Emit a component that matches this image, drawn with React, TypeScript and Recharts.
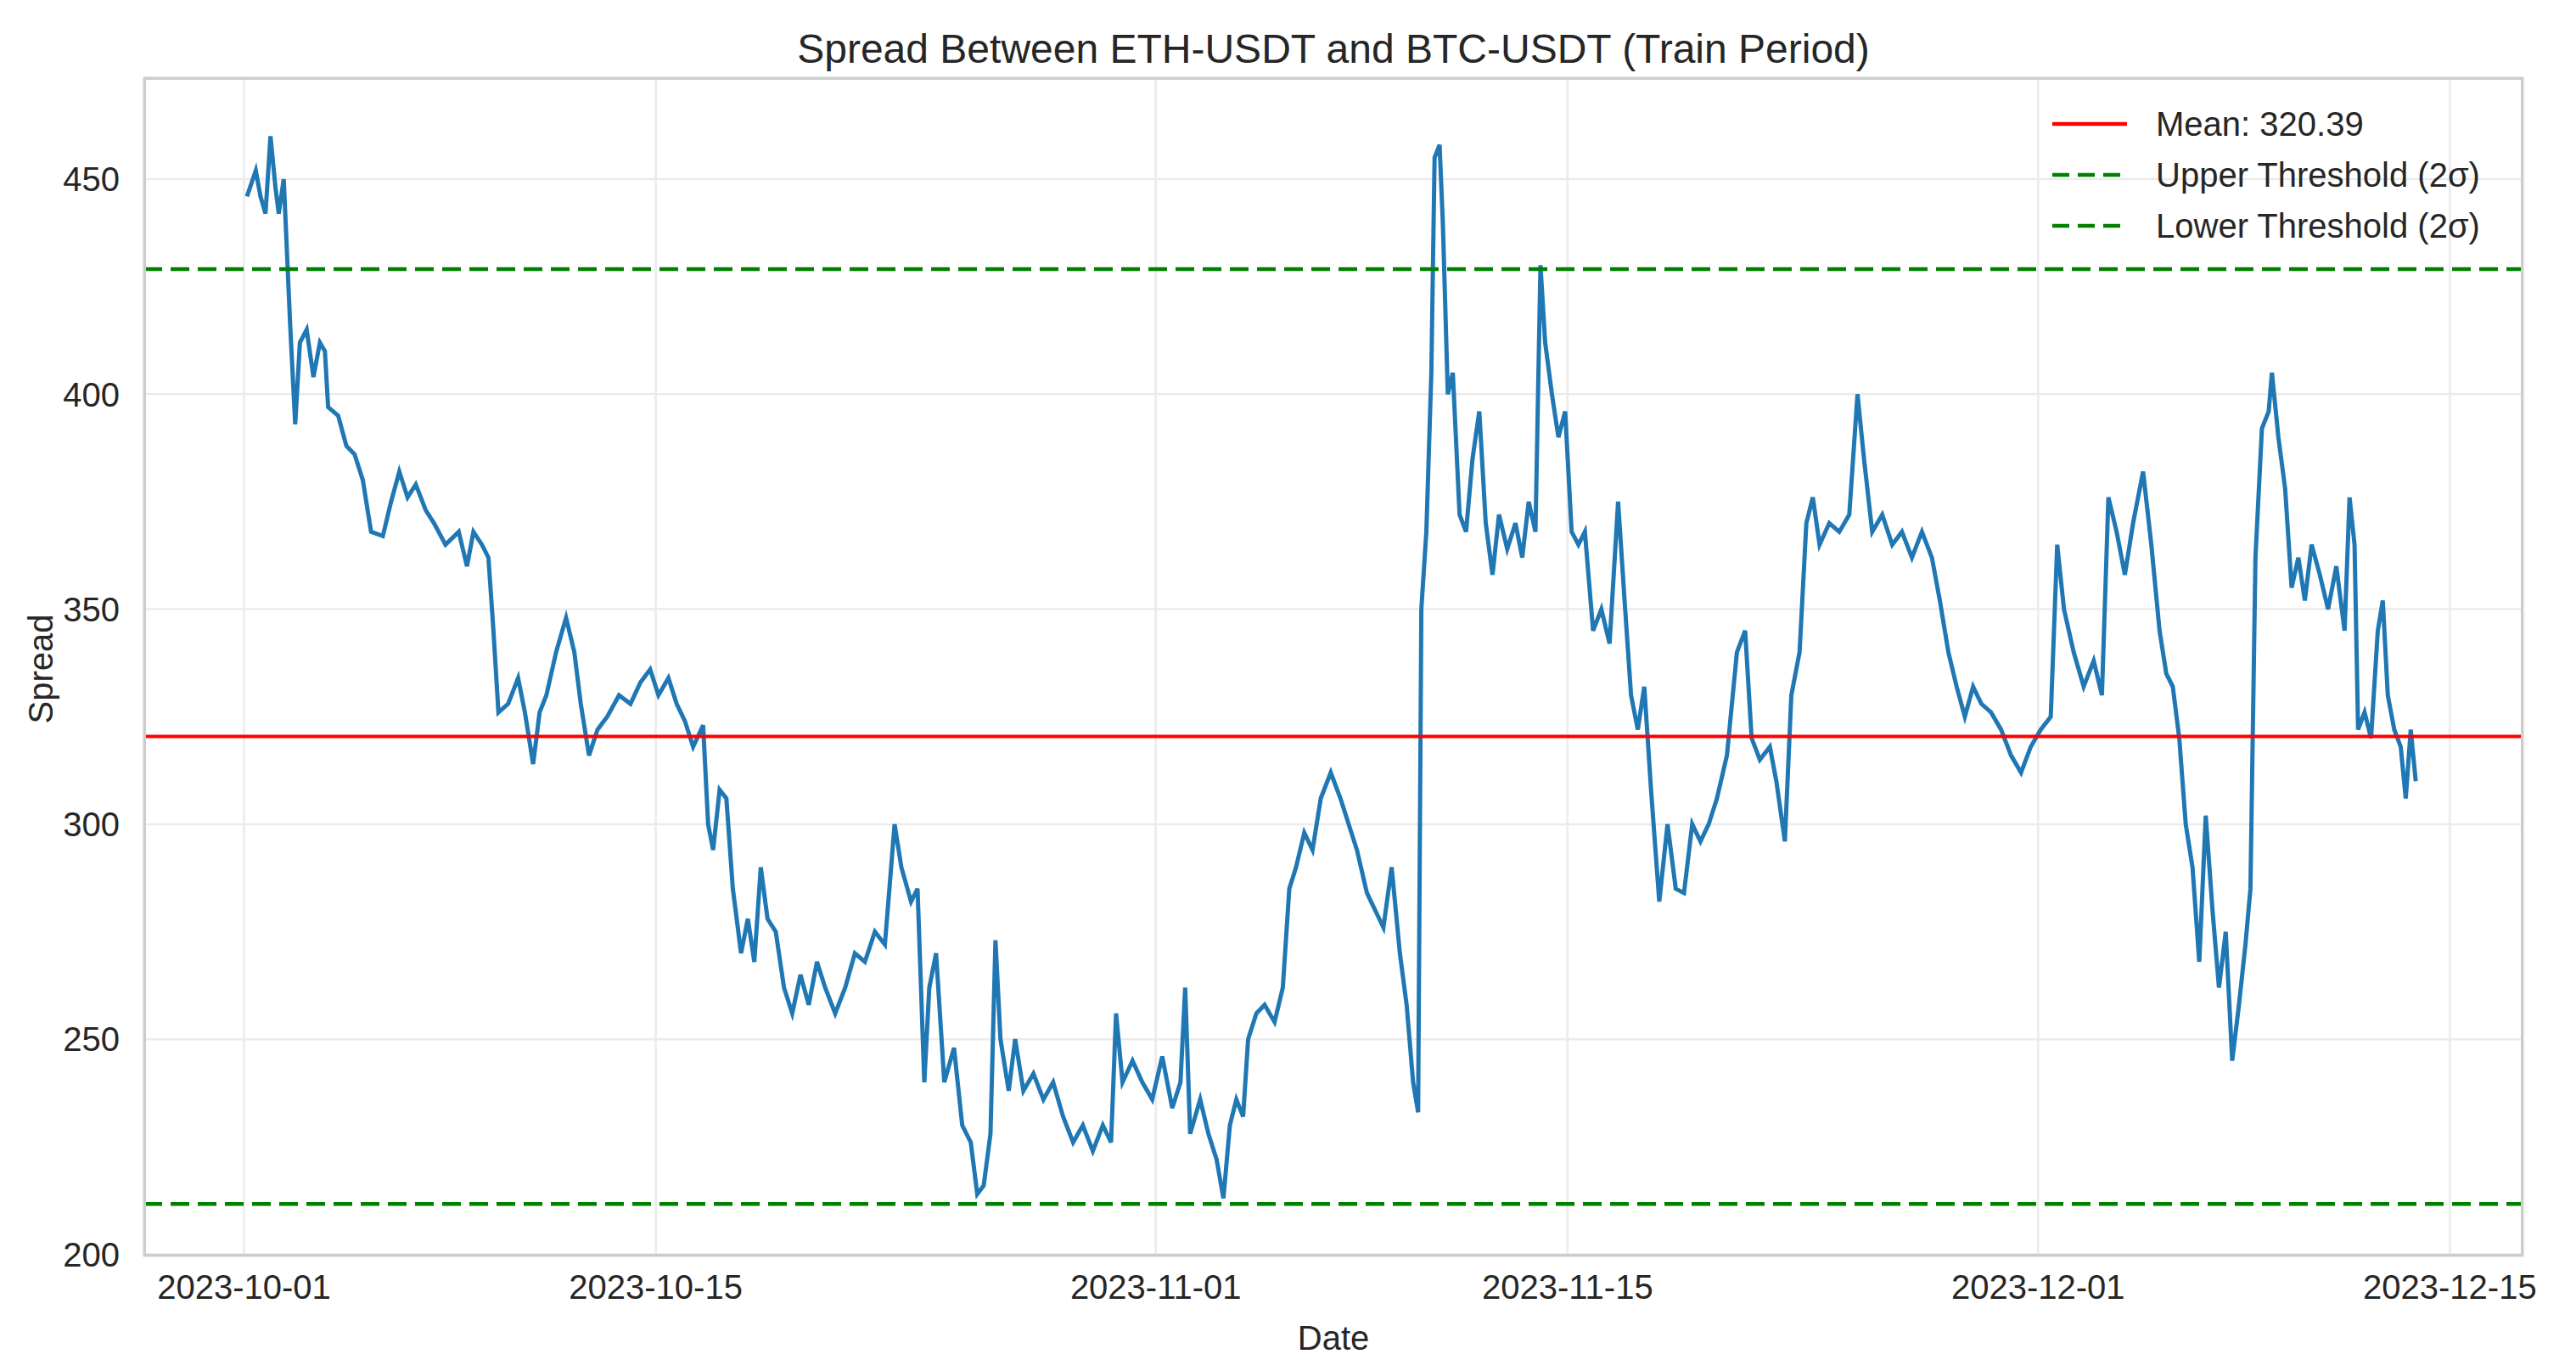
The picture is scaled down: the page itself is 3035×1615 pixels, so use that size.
import { LineChart, Line, XAxis, YAxis, CartesianGrid, ReferenceLine } from "recharts";

// days after 2023-10-01 00:00 UTC
const dayOffsets = [
  0.1, 0.4, 0.56, 0.73, 0.9, 1.07, 1.18, 1.35, 1.57, 1.74, 1.9, 2.13, 2.36, 2.58, 2.75, 2.86, 3.2, 3.48, 3.76, 4.04,
  4.32, 4.72, 5.0, 5.28, 5.56, 5.84, 6.18, 6.46, 6.85, 7.3, 7.58, 7.8, 8.09, 8.31, 8.48, 8.65, 8.98, 9.32, 9.55, 9.83,
  10.05, 10.28, 10.61, 10.95, 11.23, 11.45, 11.73, 12.02, 12.35, 12.75, 13.14, 13.48, 13.81, 14.09, 14.43, 14.71, 14.99, 15.27, 15.61, 15.78,
  15.95, 16.17, 16.4, 16.62, 16.9, 17.13, 17.35, 17.57, 17.8, 18.08, 18.36, 18.64, 18.92, 19.2, 19.48, 19.76, 20.1, 20.44, 20.77, 21.11,
  21.45, 21.79, 22.12, 22.35, 22.68, 22.9, 23.13, 23.3, 23.53, 23.81, 24.14, 24.42, 24.71, 24.93, 25.15, 25.38, 25.55, 25.72, 26.0, 26.22,
  26.5, 26.84, 27.18, 27.51, 27.85, 28.19, 28.52, 28.86, 29.2, 29.48, 29.65, 29.87, 30.21, 30.54, 30.88, 31.22, 31.56, 31.84, 32.0, 32.17,
  32.51, 32.79, 33.07, 33.3, 33.52, 33.74, 33.97, 34.14, 34.42, 34.7, 35.04, 35.32, 35.54, 35.77, 36.05, 36.33, 36.61, 36.95, 37.28, 37.56,
  37.84, 38.18, 38.46, 38.74, 39.02, 39.3, 39.53, 39.75, 39.92, 40.03, 40.2, 40.37, 40.48, 40.65, 40.76, 40.93, 41.1, 41.33, 41.55, 41.77,
  42.0, 42.22, 42.45, 42.67, 42.95, 43.23, 43.46, 43.68, 43.91, 44.08, 44.24, 44.47, 44.69, 44.92, 45.14, 45.37, 45.59, 45.87, 46.15, 46.43,
  46.72, 46.94, 47.16, 47.39, 47.61, 47.84, 48.12, 48.4, 48.68, 48.96, 49.24, 49.52, 49.8, 50.08, 50.42, 50.76, 51.04, 51.26, 51.54, 51.88,
  52.1, 52.39, 52.61, 52.89, 53.12, 53.34, 53.57, 53.9, 54.24, 54.58, 54.86, 55.08, 55.36, 55.7, 56.04, 56.37, 56.71, 57.05, 57.39, 57.66,
  57.95, 58.23, 58.51, 58.79, 59.07, 59.4, 59.74, 60.08, 60.42, 60.75, 61.09, 61.43, 61.65, 61.88, 62.21, 62.55, 62.89, 63.17, 63.39, 63.67,
  63.95, 64.23, 64.57, 64.85, 65.13, 65.36, 65.58, 65.8, 66.02, 66.25, 66.48, 66.7, 66.93, 67.15, 67.38, 67.6, 67.83, 68.05, 68.22, 68.39,
  68.61, 68.84, 68.95, 69.17, 69.4, 69.62, 69.85, 70.07, 70.3, 70.58, 70.86, 71.14, 71.42, 71.59, 71.76, 71.88, 72.1, 72.32, 72.55, 72.72,
  72.89, 73.11, 73.33, 73.5, 73.67, 73.84,
];

const spreadValues = [
  446, 452, 446, 442, 460, 448, 442, 450, 416, 393, 412, 415, 404, 412, 410, 397, 395, 388, 386, 380,
  368, 367, 375, 382, 376, 379, 373, 370, 365, 368, 360, 368, 365, 362, 345, 326, 328, 334, 326, 314,
  326, 330, 340, 348, 340, 328, 316, 322, 325, 330, 328, 333, 336, 330, 334, 328, 324, 318, 323, 300,
  294, 308, 306, 285, 270, 278, 268, 290, 278, 275, 262, 256, 265, 258, 268, 262, 256, 262, 270, 268,
  275, 272, 300, 290, 282, 285, 240, 262, 270, 240, 248, 230, 226, 214, 216, 228, 273, 250, 238, 250,
  238, 242, 236, 240, 232, 226, 230, 224, 230, 226, 256, 240, 245, 240, 236, 246, 234, 240, 262, 228,
  236, 228, 222, 213, 230, 236, 232, 250, 256, 258, 254, 262, 285, 290, 298, 294, 306, 312, 306, 300,
  294, 284, 280, 276, 290, 270, 258, 240, 233, 350, 368, 405, 455, 458, 440, 400, 405, 372, 368, 385,
  396, 370, 358, 372, 364, 370, 362, 375, 368, 430, 412, 400, 390, 396, 368, 365, 368, 345, 350, 342,
  375, 352, 330, 322, 332, 308, 282, 300, 285, 284, 300, 296, 300, 306, 316, 340, 345, 320, 315, 318,
  310, 296, 330, 340, 370, 376, 365, 370, 368, 372, 400, 385, 368, 372, 365, 368, 362, 368, 362, 352,
  340, 332, 325, 332, 328, 326, 322, 316, 312, 318, 322, 325, 365, 350, 340, 332, 338, 330, 376, 368,
  358, 370, 382, 365, 345, 335, 332, 320, 300, 290, 268, 302, 280, 262, 275, 245, 258, 272, 285, 362,
  392, 396, 405, 390, 378, 355, 362, 352, 365, 358, 350, 360, 345, 376, 365, 322, 326, 320, 345, 352,
  330, 322, 318, 306, 322, 310,
];

const tickDates = ["2023-10-01", "2023-10-15", "2023-11-01", "2023-11-15", "2023-12-01", "2023-12-15"];
const yTicks = [200, 250, 300, 350, 400, 450];

const meanSpread = 320.39;
const upperThreshold = 429.1;
const lowerThreshold = 211.7;

const DAY = 86400000;
const start = Date.UTC(2023, 9, 1);
const data = dayOffsets.map((d, i) => ({ t: start + d * DAY, spread: spreadValues[i] }));
const xTicks = tickDates.map((s) => Date.parse(s + "T00:00:00Z"));

const font = "'Liberation Sans', Arial, sans-serif";
const ink = "#262626";

const fmtDate = (v: number) => new Date(v).toISOString().slice(0, 10);

const legendItems = [
  { label: "Mean: 320.39", color: "red", dash: undefined },
  { label: "Upper Threshold (2σ)", color: "green", dash: "20 10" },
  { label: "Lower Threshold (2σ)", color: "green", dash: "20 10" },
];

function LegendBox() {
  return (
    <div style={{ position: "absolute", top: 108, left: 2410, fontFamily: font, fontSize: 40, color: ink }}>
      {legendItems.map((it) => (
        <div key={it.label} style={{ display: "flex", alignItems: "center", height: 60 }}>
          <svg width={90} height={20} style={{ marginRight: 32 }}>
            <line x1={0} y1={10} x2={88} y2={10} stroke={it.color} strokeWidth={4.5} strokeDasharray={it.dash} />
          </svg>
          <span>{it.label}</span>
        </div>
      ))}
    </div>
  );
}

export default function App() {
  return (
    <div style={{ position: "relative", width: 3019, height: 1599, background: "#fff", fontFamily: font }}>
      <div style={{ position: "absolute", top: 22, left: 161, width: 2804, textAlign: "center", fontSize: 48, color: ink }}>
        Spread Between ETH-USDT and BTC-USDT (Train Period)
      </div>
      <div style={{ position: "absolute", top: 1546, left: 161, width: 2804, textAlign: "center", fontSize: 40, color: ink }}>
        Date
      </div>
      <div
        style={{
          position: "absolute",
          left: 40,
          top: 780,
          transform: "translate(-50%, -50%) rotate(-90deg)",
          fontSize: 40,
          color: ink,
        }}
      >
        Spread
      </div>
      <LineChart width={3019} height={1599} data={data} margin={{ top: 83, right: 54, bottom: 7, left: 61 }}>
        <CartesianGrid stroke="#ebebeb" strokeWidth={2.5} />
        <XAxis
          dataKey="t"
          type="number"
          scale="time"
          domain={[start - 3.42 * DAY, start + 77.5 * DAY]}
          ticks={xTicks}
          tickFormatter={fmtDate}
          tickLine={false}
          axisLine={false}
          height={120}
          tick={{ fontSize: 40, fill: ink, fontFamily: font }}
          tickMargin={16}
        />
        <YAxis
          type="number"
          domain={[199.5, 473.7]}
          ticks={yTicks}
          tickLine={false}
          axisLine={false}
          width={100}
          allowDataOverflow
          tick={{ fontSize: 40, fill: ink, fontFamily: font }}
          tickMargin={22}
        />
        <Line
          type="linear"
          dataKey="spread"
          stroke="#1f77b4"
          strokeWidth={5}
          dot={false}
          isAnimationActive={false}
        />
        <ReferenceLine y={meanSpread} stroke="red" strokeWidth={4} />
        <ReferenceLine y={upperThreshold} stroke="green" strokeWidth={4.5} strokeDasharray="22 10" />
        <ReferenceLine y={lowerThreshold} stroke="green" strokeWidth={4.5} strokeDasharray="22 10" />
      </LineChart>
      <LegendBox />
      <div
        style={{
          position: "absolute",
          left: 161,
          top: 83,
          width: 2804,
          height: 1389,
          border: "3px solid #cccccc",
          boxSizing: "border-box",
          pointerEvents: "none",
        }}
      />
    </div>
  );
}
